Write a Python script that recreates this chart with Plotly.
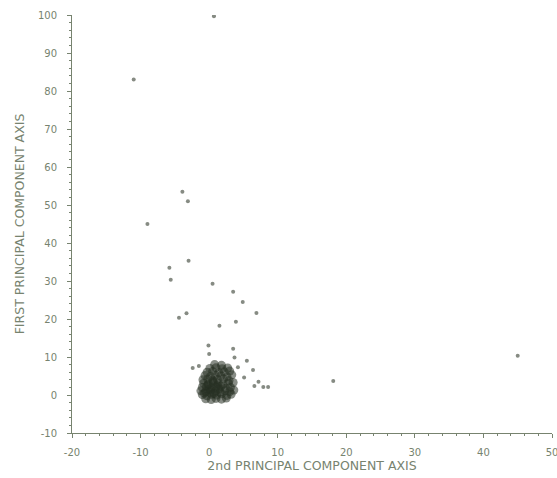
import plotly.graph_objects as go

# Scattered observations (2nd PC, 1st PC)
pc2 = [0.7, -11.0, -9.0, -3.9, -3.1, -3.0, -5.8, -5.6, 0.5, 3.5, 4.9, 6.9,
       -3.3, -4.4, 3.9, 1.5, -0.1, 3.5, 0.0, 3.7, 5.5, -2.4, -1.5, 6.4,
       7.2, 6.6, 7.9, 8.6, 5.1, 4.2, 18.1, 45.0]
pc1 = [99.7, 83.0, 45.0, 53.5, 51.0, 35.3, 33.5, 30.3, 29.3, 27.2, 24.5, 21.6,
       21.5, 20.3, 19.3, 18.2, 13.0, 12.2, 10.8, 9.9, 9.0, 7.1, 7.6, 6.6,
       3.5, 2.4, 2.1, 2.1, 4.6, 7.3, 3.7, 10.3]

# Dense cluster of observations near the origin
cluster_pc2 = [-0.5, 0.3, 1.0, 1.8, 2.5,
               -1.0, -0.3, 0.4, 1.1, 1.8, 2.6, 3.2,
               -1.2, -0.5, 0.2, 0.9, 1.6, 2.3, 3.0, 3.6,
               -1.0, -0.4, 0.3, 1.0, 1.7, 2.4, 3.1,
               -0.8, -0.1, 0.6, 1.3, 2.0, 2.8, 3.5,
               -0.9, -0.2, 0.5, 1.2, 2.1, 2.9,
               -0.6, 0.2, 0.9, 1.7, 2.6, 3.3,
               -0.3, 0.5, 1.4, 2.2, 3.0,
               0.1, 1.0, 1.9, 2.7,
               0.8, 1.8,
               -0.7, 0.0, 0.7, 1.4, -0.2, 0.6, 1.2, 0.1]
cluster_pc1 = [-1.0, -1.2, -0.9, -1.1, -0.8,
               0.1, -0.2, 0.2, 0.0, 0.3, -0.1, 0.2,
               1.1, 0.9, 1.2, 1.0, 0.8, 1.1, 0.9, 1.3,
               2.0, 2.2, 1.9, 2.1, 2.3, 1.8, 2.0,
               3.1, 2.9, 3.2, 3.0, 2.8, 3.1, 3.3,
               4.0, 4.2, 3.9, 4.1, 4.3, 3.8,
               5.1, 4.9, 5.2, 5.0, 4.8, 5.3,
               6.0, 6.2, 5.9, 6.1, 6.3,
               7.0, 7.2, 6.9, 7.1,
               8.0, 7.8,
               0.5, 1.5, 0.4, 1.6, 2.6, 3.6, 2.4, 0.7]

x_ticks = [-20, -10, 0, 10, 20, 30, 40, 50]
y_ticks = [-10, 0, 10, 20, 30, 40, 50, 60, 70, 80, 90, 100]
x_title = "2nd PRINCIPAL COMPONENT AXIS"
y_title = "FIRST PRINCIPAL COMPONENT AXIS"

ink = "#77836f"
font_family = "DejaVu Sans, Liberation Sans, Arial"
fig = go.Figure()
fig.add_trace(go.Scatter(
    x=cluster_pc2, y=cluster_pc1, mode="markers",
    marker=dict(size=9, color="#263022", opacity=0.55, line=dict(width=0)),
    hoverinfo="skip", showlegend=False))
fig.add_trace(go.Scatter(
    x=pc2, y=pc1, mode="markers",
    marker=dict(size=4, color="#868b83", line=dict(width=0)),
    showlegend=False))

axis_common = dict(
    showgrid=False, zeroline=False, showline=True, linecolor=ink, linewidth=1,
    ticks="outside", ticklen=4, tickcolor=ink, tickwidth=1,
    tickfont=dict(family=font_family, size=10, color=ink),
    minor=dict(ticks="outside", ticklen=2, tickcolor=ink, dtick=2),
    mirror=False, ticklabeloverflow="allow", automargin=False,
)
fig.update_xaxes(range=[-20, 50], tickvals=x_ticks,
                 ticktext=[str(v) for v in x_ticks],
                 ticklabelstandoff=6,
                 title=dict(text=x_title, standoff=0,
                            font=dict(family=font_family, size=12.5, color=ink)),
                 **axis_common)
fig.update_yaxes(range=[-10, 100], tickvals=y_ticks,
                 ticktext=[str(v) for v in y_ticks],
                 ticklabelstandoff=8,
                 title=dict(text=y_title, standoff=10,
                            font=dict(family=font_family, size=12.5, color=ink)),
                 **axis_common)
fig.update_layout(
    width=557, height=478,
    margin=dict(l=72, r=5, t=15, b=45),
    plot_bgcolor="white", paper_bgcolor="white",
)
fig.write_html("out.html")
